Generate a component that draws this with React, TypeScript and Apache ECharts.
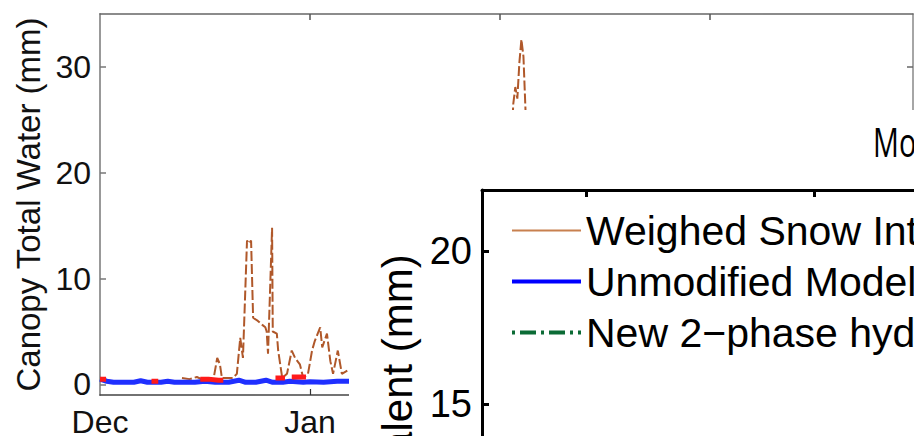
import React, { useEffect, useRef } from "react";
import * as echarts from "echarts";

// ---------- data (days since 1 Dec, value in mm) ----------
const weighedCanopy: [number, number | null][] = [
  [12.1, 0.6], [13.2, 0.5], [14.3, 0.7], [15.0, 0.5], [15.8, 0.6], [16.7, 0.3],
  [17.3, 2.5], [17.7, 1.9], [18.0, 0.6], [19.6, 0.6], [20.2, 1.0], [20.7, 4.4],
  [21.1, 2.5], [21.7, 13.6], [22.0, 13.3], [22.3, 13.6], [22.6, 6.3], [23.3, 6.0],
  [24.0, 5.6], [24.4, 5.4], [24.6, 5.0], [24.8, 2.9], [25.4, 14.8], [25.5, 5.0],
  [26.1, 4.8], [26.3, 3.2], [26.9, 0.6], [27.6, 1.0], [28.3, 3.2], [28.8, 2.5],
  [29.5, 1.9], [30.0, 0.6], [30.7, 1.0], [31.3, 3.2], [31.7, 4.1], [32.5, 5.4],
  [32.8, 3.5], [33.5, 4.8], [34.0, 2.2], [34.4, 1.0], [35.1, 3.2], [35.7, 1.0],
  [36.5, 1.3], [37.0, null],
  [60.8, 24.0], [61.0, 26.5], [61.3, 28.1], [61.6, 27.0], [61.9, 30.4],
  [62.2, 32.6], [62.5, 31.0], [62.8, 26.0], [63.0, 20.0]
];

const unmodifiedCanopy: [number, number][] = [
  [0, 0.5], [1, 0.3], [2, 0.2], [5, 0.2], [6, 0.35], [7, 0.2], [9, 0.2],
  [10, 0.3], [11, 0.2], [14, 0.2], [15.5, 0.3], [17, 0.2], [19, 0.2],
  [20.5, 0.4], [21.5, 0.2], [23, 0.2], [24.5, 0.4], [25.5, 0.2], [27, 0.2],
  [28, 0.3], [30, 0.2], [31, 0.25], [33, 0.2], [35, 0.3], [36.8, 0.3]
];

const modifiedCanopy: [number, number | null][] = [
  [0, 0.5], [0.9, 0.5], [1.0, null],
  [7.6, 0.3], [8.6, 0.3], [8.7, null],
  [14.8, 0.5], [16.0, 0.5], [17.5, 0.4], [18.2, 0.4], [18.3, null],
  [25.9, 0.6], [27.3, 0.6], [27.4, null],
  [28.3, 0.7], [30.4, 0.7], [30.5, null]
];

const canopyTicks = [0, 10, 20, 30];
const monthTickDays = [0, 31];
const monthLabels = ["Dec", "Jan"];
const topTickDays = [31, 59, 90];
const sweTickDays = [30, 60, 90, 120];
const sweLabels = [0, 5, 10, 15, 20];
const legendNames = ["Weighed Snow Interception", "Unmodified Model", "New 2−phase hydrology"];
const panelTitle = "Model";

const FONT = "Liberation Sans";

function toSeries(d: [number, number | null][]) {
  return d.map(([x, y]) => [x, y === null ? "-" : y]);
}

export default function App() {
  const ref = useRef<HTMLDivElement>(null);
  useEffect(() => {
    if (!ref.current) return;
    const chart = echarts.init(ref.current, null, { renderer: "svg" });
    const option: any = {
      animation: false,
      backgroundColor: "#ffffff",
      grid: [
        { left: 100, top: 14, width: 813, height: 381, outerBoundsMode: "none", containLabel: false },
        { left: 482, top: 190, width: 1016, height: 673, outerBoundsMode: "none", containLabel: false }
      ],
      xAxis: [
        {
          gridIndex: 0, type: "value", min: 0, max: 120, position: "bottom",
          axisLine: { onZero: false, lineStyle: { color: "#444", width: 1.5 } },
          axisTick: { inside: true, length: 6, customValues: [31], lineStyle: { color: "#333", width: 1.2 } },
          axisLabel: {
            customValues: monthTickDays,
            formatter: (v: number) => monthLabels[monthTickDays.indexOf(v)] ?? "",
            fontSize: 32, margin: 11, color: "#111", fontFamily: FONT
          },
          splitLine: { show: false }
        },
        {
          gridIndex: 0, type: "value", min: 0, max: 120, position: "top",
          axisLine: { onZero: false, lineStyle: { color: "#666", width: 1.5 } },
          axisTick: { inside: true, length: 6, customValues: topTickDays, lineStyle: { color: "#555", width: 1.5 } },
          axisLabel: { show: false },
          splitLine: { show: false }
        },
        {
          gridIndex: 1, type: "value", min: 16.3, max: 150, position: "top", z: 60,
          axisLine: { onZero: false, lineStyle: { color: "#000", width: 3 } },
          axisTick: { inside: true, length: 7, customValues: sweTickDays, lineStyle: { color: "#000", width: 3 } },
          axisLabel: { show: false },
          splitLine: { show: false }
        }
      ],
      yAxis: [
        {
          gridIndex: 0, type: "value", min: -1, max: 35, position: "left",
          axisLine: { onZero: false, lineStyle: { color: "#999", width: 2 } },
          axisTick: { inside: true, length: 6, customValues: canopyTicks, lineStyle: { color: "#777", width: 1.5 } },
          axisLabel: { customValues: canopyTicks, fontSize: 32, margin: 9, color: "#111", fontFamily: FONT },
          splitLine: { show: false },
          name: "Canopy Total Water (mm)", nameLocation: "middle", nameGap: 55,
          nameTextStyle: { fontSize: 33, color: "#111", fontFamily: FONT }
        },
        {
          gridIndex: 0, type: "value", min: -1, max: 35, position: "right",
          axisLine: { onZero: false, lineStyle: { color: "#888", width: 1.5 } },
          axisTick: { inside: true, length: 6, customValues: canopyTicks, lineStyle: { color: "#666", width: 1.5 } },
          axisLabel: { show: false },
          splitLine: { show: false }
        },
        {
          gridIndex: 1, type: "value", min: 0, max: 22, position: "left", z: 60,
          axisLine: { onZero: false, lineStyle: { color: "#000", width: 3 } },
          axisTick: { inside: true, length: 7, customValues: sweLabels, lineStyle: { color: "#000", width: 3 } },
          axisLabel: { customValues: sweLabels, fontSize: 38, margin: 10, color: "#000", fontFamily: FONT },
          splitLine: { show: false },
          name: "Snow Water Equivalent (mm)", nameLocation: "middle", nameGap: 61,
          nameTextStyle: { fontSize: 42, color: "#000", fontFamily: FONT }
        }
      ],
      legend: {
        orient: "vertical", left: 510, top: 210, padding: 0,
        itemWidth: 69, itemHeight: 14, itemGap: 10, z: 60,
        selectedMode: false,
        data: legendNames,
        itemStyle: { opacity: 0 },
        lineStyle: { width: "inherit", type: "inherit" },
        textStyle: { fontSize: 41, lineHeight: 40, color: "#000", fontFamily: FONT }
      },
      series: [
        {
          name: "Weighed canopy storage", type: "line", xAxisIndex: 0, yAxisIndex: 0,
          data: toSeries(weighedCanopy), symbol: "none", z: 2,
          lineStyle: { color: "#b0582a", width: 2, type: [10, 3] }
        },
        {
          name: "Unmodified canopy storage", type: "line", xAxisIndex: 0, yAxisIndex: 0,
          data: unmodifiedCanopy, symbol: "none", z: 2,
          lineStyle: { color: "#1f2fff", width: 5 }
        },
        {
          name: "Modified canopy storage", type: "line", xAxisIndex: 0, yAxisIndex: 0,
          data: toSeries(modifiedCanopy), symbol: "none", z: 3,
          lineStyle: { color: "#ff1a1a", width: 5 }
        },
        {
          name: legendNames[0], type: "line", xAxisIndex: 2, yAxisIndex: 2, data: [],
          symbol: "none", color: "#c8804f", lineStyle: { color: "#c8804f", width: 2 }
        },
        {
          name: legendNames[1], type: "line", xAxisIndex: 2, yAxisIndex: 2, data: [],
          symbol: "none", color: "#0000ff", lineStyle: { color: "#0000ff", width: 4 }
        },
        {
          name: legendNames[2], type: "line", xAxisIndex: 2, yAxisIndex: 2, data: [],
          symbol: "none", color: "#0b6b35", lineStyle: { color: "#0b6b35", width: 4, type: [3, 5, 16, 5] }
        }
      ],
      graphic: [
        {
          type: "rect", z: 50,
          shape: { x: 349, y: 110, width: 600, height: 400 },
          style: { fill: "#ffffff" }
        },
        {
          type: "text", z: 60, x: 873, y: 142, scaleX: 0.72,
          style: {
            text: panelTitle, fill: "#000", align: "left", verticalAlign: "middle",
            font: `40px "Open Sans"`
          }
        }
      ]
    };
    chart.setOption(option);
    return () => chart.dispose();
  }, []);
  return (
    <div
      ref={ref}
      style={{ position: "fixed", left: 0, top: 0, width: 914, height: 436, background: "#fff" }}
    />
  );
}
